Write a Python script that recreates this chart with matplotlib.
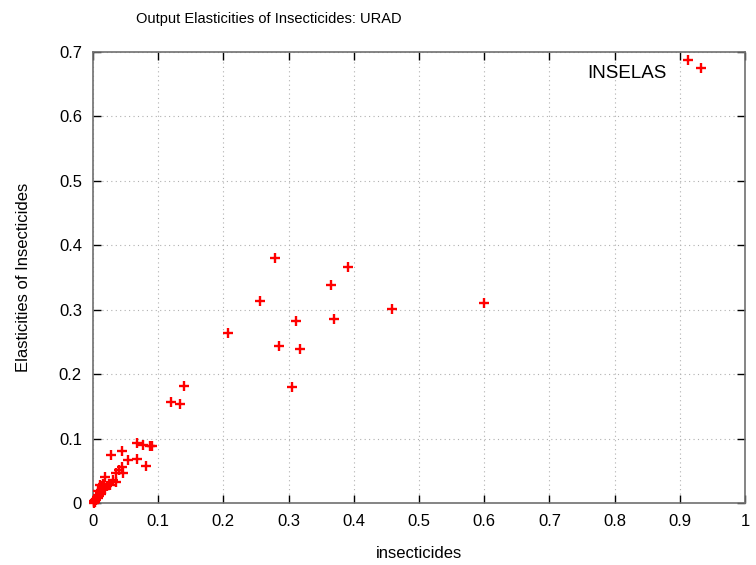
import numpy as np
import matplotlib
matplotlib.use('Agg')
import matplotlib.pyplot as plt

matplotlib.rcParams['font.family'] = ['Liberation Sans', 'DejaVu Sans']

# insecticide quantity vs estimated output elasticity
insecticides = [0.912, 0.932, 0.600, 0.459, 0.391, 0.365, 0.369, 0.279, 0.256,
                0.311, 0.286, 0.317, 0.305, 0.207, 0.139, 0.120, 0.133,
                0.068, 0.077, 0.088, 0.090, 0.027, 0.045, 0.068, 0.053, 0.082,
                0.044, 0.040, 0.036, 0.046, 0.031, 0.036, 0.018, 0.026, 0.011,
                0.001, 0.002, 0.003, 0.004, 0.005, 0.006, 0.007, 0.008, 0.009,
                0.010, 0.011, 0.012, 0.013, 0.015, 0.017, 0.019, 0.021, 0.008,
                0.014, 0.003, 0.002, 0.016, 0.024]
elasticities = [0.687, 0.675, 0.310, 0.301, 0.366, 0.338, 0.286, 0.380, 0.314,
                0.283, 0.243, 0.239, 0.180, 0.264, 0.182, 0.157, 0.153,
                0.093, 0.090, 0.089, 0.0885, 0.0745, 0.080, 0.069, 0.066, 0.057,
                0.056, 0.051, 0.047, 0.047, 0.036, 0.033, 0.040, 0.028, 0.028,
                0.001, 0.003, 0.002, 0.006, 0.005, 0.009, 0.008, 0.012, 0.011,
                0.015, 0.017, 0.014, 0.020, 0.022, 0.025, 0.022, 0.027, 0.018,
                0.026, 0.004, 0.000, 0.030, 0.030]

xticks = np.arange(0, 1.01, 0.1)
yticks = np.arange(0, 0.71, 0.1)
xtick_labels = ['0', '0.1', '0.2', '0.3', '0.4', '0.5', '0.6', '0.7', '0.8', '0.9', '1']
ytick_labels = ['0', '0.1', '0.2', '0.3', '0.4', '0.5', '0.6', '0.7']

fig = plt.figure(figsize=(7.56, 5.65), dpi=100)
ax = fig.add_axes([0.123, 0.1097, 0.8625, 0.7983])

ax.plot(insecticides, elasticities, linestyle='none', marker='+', color='red',
        markersize=6.5, markeredgewidth=1.7, clip_on=False, zorder=3)

ax.set_xlim(0, 1)
ax.set_ylim(0, 0.7)
ax.set_xticks(xticks)
ax.set_xticklabels(xtick_labels)
ax.set_yticks(yticks)
ax.set_yticklabels(ytick_labels)
ax.grid(True, linestyle=(0, (1, 3)), color='#b0b0b0', linewidth=0.8)
ax.tick_params(direction='in', top=True, right=True, length=6, width=1,
               labelsize=12, pad=8, colors='black')
for s in ax.spines.values():
    s.set_color('#707070')
    s.set_linewidth(1.2)

ax.set_xlabel('insecticides', fontsize=12, labelpad=12)
ax.set_ylabel('Elasticities of Insecticides', fontsize=12, labelpad=20)
ax.text(0.819, 0.667, 'INSELAS', fontsize=13.5, ha='center', va='center',
        transform=ax.transData)
fig.text(0.356, 0.966, 'Output Elasticities of Insecticides: URAD', fontsize=10.5,
         ha='center', va='center')

fig.savefig('out.png', dpi=100)
